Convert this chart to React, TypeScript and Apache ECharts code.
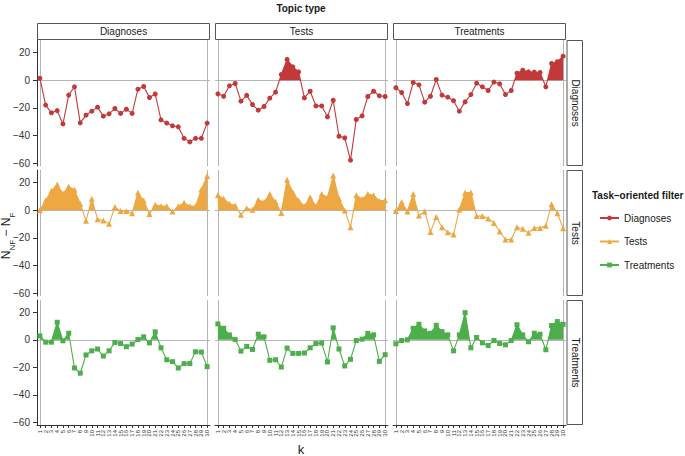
import { useEffect, useRef } from 'react';
import * as echarts from 'echarts';

const kValues = [1, 2, 3, 4, 5, 6, 7, 8, 9, 10, 11, 12, 13, 14, 15, 16, 17, 18, 19, 20, 21, 22, 23, 24, 25, 26, 27, 28, 29, 30];
const topicTypes = ['Diagnoses', 'Tests', 'Treatments'];
const filters = ['Diagnoses', 'Tests', 'Treatments'];
const yTicks = [-60, -40, -20, 0, 20];

// rows: task-oriented filter, columns: topic type
const diagDiag = [1.4, -18, -23.6, -22, -31.6, -10.8, -4.8, -30.8, -25.3, -22.4, -19.5, -26, -24.3, -20.5, -24, -21, -24, -6.5, -4.6, -12.5, -10, -28.7, -31, -33, -33.7, -42, -44.6, -42, -42, -31];
const diagTest = [-9.9, -11.6, -4.1, -2.4, -15.2, -11, -17.6, -21.7, -19, -13, -8.7, 4.1, 15, 9.6, 6, -12.8, -8, -18.6, -18.6, -26.5, -14.5, -40.5, -41.7, -57.8, -28.4, -25.8, -11.8, -8, -11.3, -11.8];
const diagTreat = [-5.5, -8.9, -16.9, -1.7, -3.4, -15.9, -11.6, 0.5, -10.8, -12.3, -14.9, -22.4, -15.7, -10.4, -2.2, -4.8, -7.5, -1.4, -2.7, -10.4, -7.5, 5, 7.2, 6, 5.8, 5.5, -4.8, 12, 13.3, 17.3];
const testDiag = [0, 7, 14, 18.5, 12, 17, 14.7, 4.6, -7.7, 8.2, -6.5, -7.5, -9.9, 2.2, -0.7, -0.7, -2.2, 12.5, 7, -2.7, 3.9, 2.9, 2.9, -1, 2.9, 5.3, 2.9, 2.9, 15, 24.6];
const testTest = [10.8, 8.2, 4.6, 3.4, -3.4, 1.4, 0.3, 7.5, 5.8, 11.6, 6, -2, 22, 13, 7, 2.9, 9.4, 2.9, 11.6, 9.2, 25, 8.4, -0.2, -12.3, 10.8, 8, 11.6, 10.8, 6.7, 7.2];
const testTreat = [-0.7, 5.8, -1, 11.6, -3.9, -1, -15.7, -5, -12.3, -16, -17.6, 0.5, 12.5, 12.8, -4.3, -4.3, -6, -9.2, -15.4, -21.2, -21.2, -12.3, -13.5, -16.4, -12.8, -12.8, -11.3, 4.3, -2.2, -13];
const treatDiag = [2.9, -1.7, -1.7, 12.8, -0.7, 4.8, -20.5, -24.3, -11, -8, -6.7, -11.8, -8, -1.9, -2.7, -5, -3.1, 0.2, 2.2, -2.2, 5.8, -5.8, -14.5, -15.9, -20.5, -17.3, -17.3, -8.7, -8.9, -19.5];
const treatTest = [11.6, 8.4, 3.6, 0.2, -8.2, -4.8, -7, 4.1, 2.2, -14.9, -14.5, -19.8, -6, -9.9, -9.9, -9.6, -5.8, -2.7, -2.4, -16.1, 8.7, -6.7, -19, -14.2, -0.5, 0.5, 4.6, 3.6, -15.7, -10.8];
const treatTreat = [-2.9, -0.5, 0, 8.4, 11.3, 6.5, 4.8, 10.6, 6, 3.6, -8, 3.6, 19.8, -5.8, 1.7, -2.2, -4.1, -0.5, -2.7, -3.6, -0.5, 11, 3.6, -1.4, 4.8, 4.1, -7.2, 10.4, 13.3, 11.3];

const panelData = [
  [diagDiag, diagTest, diagTreat],
  [testDiag, testTest, testTreat],
  [treatDiag, treatTest, treatTreat],
];

const colors = ['#C3393A', '#EEA843', '#4DAE4C'];
const symbols = ['circle', 'triangle', 'rect'];
const symbolSizes = [5, 6, 5];

const FONT = '"Liberation Sans", Arial, Helvetica, sans-serif';
const TEXT = '#1a1a1a';
const GREY = '#b5b5b5';

const COL_LEFT = [37, 215, 393];
const ROW_TOP = [40, 170, 300];
const PW = 173;
const PH = 126;

function positiveArea(vals: number[]) {
  const out: number[][] = [];
  for (let i = 0; i < vals.length; i++) {
    const x = kValues[i];
    const v = vals[i];
    out.push([x, Math.max(0, v)]);
    if (i < vals.length - 1) {
      const v2 = vals[i + 1];
      if ((v > 0 && v2 < 0) || (v < 0 && v2 > 0)) {
        const t = v / (v - v2);
        out.push([x + t * (kValues[i + 1] - x), 0]);
      }
    }
  }
  return out;
}

export default function App() {
  const ref = useRef<HTMLDivElement>(null);
  useEffect(() => {
    document.body.style.margin = '0';
    const chart = echarts.init(ref.current!, null, { renderer: 'svg' });
    const grids: any[] = [];
    const xAxes: any[] = [];
    const yAxes: any[] = [];
    const series: any[] = [];
    const graphics: any[] = [];
    const labelAxes: any[] = [];
    let idx = 0;
    for (let r = 0; r < 3; r++) {
      for (let c = 0; c < 3; c++) {
        grids.push({ left: COL_LEFT[c], top: ROW_TOP[r], width: PW, height: r === 2 ? 125 : PH });
        const bottom = r === 2;
        const left = c === 0;
        xAxes.push({
          type: 'value', gridIndex: idx, min: 0.5, max: 30.5,
          axisLine: { show: false },
          axisTick: { show: false },
          axisLabel: { show: false },
          splitLine: { show: false },
        });
        if (bottom) {
          labelAxes.push({
            type: 'category', gridIndex: idx, position: 'bottom', boundaryGap: true,
            data: kValues.map(String),
            axisLine: { show: true, onZero: false, lineStyle: { color: '#333', width: 1 } },
            axisTick: { show: true, alignWithLabel: true, interval: 0, length: 3, lineStyle: { color: '#333' } },
            axisLabel: {
              show: true, interval: 0, rotate: 90, fontSize: 6, margin: 5, color: '#333', fontFamily: FONT,
            },
            splitLine: { show: false },
          });
        }
        yAxes.push({
          type: 'value', gridIndex: idx, min: -62, max: 29,
          axisLine: { show: left, lineStyle: { color: '#333', width: 1 } },
          axisTick: { show: left, customValues: yTicks, length: 4, lineStyle: { color: '#333' } },
          axisLabel: {
            show: left, customValues: yTicks, fontSize: 10, margin: 7, color: '#333', fontFamily: FONT,
            formatter: (v: number) => String(v).replace('-', '\u2212'),
          },
          splitLine: { show: false },
        });
        const vals = panelData[r][c];
        series.push({
          type: 'line', name: 'area' + idx, xAxisIndex: idx, yAxisIndex: idx,
          data: positiveArea(vals), symbol: 'none', silent: true, z: 1,
          lineStyle: { width: 0 },
          areaStyle: { color: colors[r], opacity: 1, origin: 0 },
          markLine: {
            silent: true, symbol: ['none', 'none'], label: { show: false },
            lineStyle: { color: GREY, type: 'solid', width: 1 },
            data: [{ xAxis: 1 }, { xAxis: 30 }, { yAxis: 0 }],
            z: 0,
          },
        });
        series.push({
          type: 'line', name: filters[r], xAxisIndex: idx, yAxisIndex: idx, z: 3,
          data: vals.map((v, i) => [kValues[i], v]),
          symbol: symbols[r], symbolSize: symbolSizes[r],
          lineStyle: { color: colors[r], width: 1.1 },
          itemStyle: { color: colors[r] },
        });
        idx++;
      }
    }
    // strips
    for (let c = 0; c < 3; c++) {
      graphics.push({
        type: 'rect', shape: { x: COL_LEFT[c] + 0.5, y: 23.5, width: PW - 1, height: 16 },
        style: { fill: '#fff', stroke: '#555', lineWidth: 1 },
      });
      graphics.push({
        type: 'text', x: COL_LEFT[c] + PW / 2, y: 31.5,
        style: { text: topicTypes[c], fontSize: 10, fontFamily: FONT, fill: TEXT, align: 'center', verticalAlign: 'middle' },
      });
    }
    for (let r = 0; r < 3; r++) {
      const h = r === 2 ? 125 : PH;
      graphics.push({
        type: 'rect', shape: { x: 567, y: ROW_TOP[r] + 0.5, width: 15.5, height: h - 1 },
        style: { fill: '#fff', stroke: '#555', lineWidth: 1 },
      });
      graphics.push({
        type: 'text', x: 575, y: ROW_TOP[r] + h / 2, rotation: -Math.PI / 2,
        style: { text: filters[r], fontSize: 10, fontFamily: FONT, fill: TEXT, align: 'center', verticalAlign: 'middle' },
      });
    }
    graphics.push({
      type: 'text', x: 301, y: 8,
      style: { text: 'Topic type', fontSize: 10, fontWeight: 'bold', fontFamily: FONT, fill: TEXT, align: 'center', verticalAlign: 'middle' },
    });
    graphics.push({
      type: 'text', x: 301, y: 449,
      style: { text: 'k', fontSize: 13, fontFamily: FONT, fill: TEXT, align: 'center', verticalAlign: 'middle' },
    });
    graphics.push({
      type: 'text', x: 8, y: 236, rotation: Math.PI / 2,
      style: {
        text: '{n|N}{s|NF}{n| \u2212 N}{s|F}',
        fontFamily: FONT, fill: TEXT, align: 'center', verticalAlign: 'middle',
        rich: {
          n: { fontSize: 12, lineHeight: 16, verticalAlign: 'top', fontFamily: FONT, fill: TEXT },
          s: { fontSize: 8, lineHeight: 10, verticalAlign: 'bottom', fontFamily: FONT, fill: TEXT },
        },
      },
    });
    graphics.push({
      type: 'text', x: 592, y: 195,
      style: { text: 'Task\u2013oriented filter', fontSize: 10, fontWeight: 'bold', fontFamily: FONT, fill: TEXT, align: 'left', verticalAlign: 'middle' },
    });

    chart.setOption({
      animation: false,
      backgroundColor: '#fff',
      grid: grids,
      xAxis: xAxes.concat(labelAxes),
      yAxis: yAxes,
      series,
      graphic: graphics,
      legend: {
        data: filters, orient: 'vertical', left: 594, top: 208,
        itemWidth: 19, itemHeight: 6, itemGap: 13.5,
        textStyle: { fontSize: 10, fontFamily: FONT, color: TEXT },
        selectedMode: false,
      },
    });
    return () => chart.dispose();
  }, []);
  return <div ref={ref} style={{ width: 685, height: 456 }} />;
}
